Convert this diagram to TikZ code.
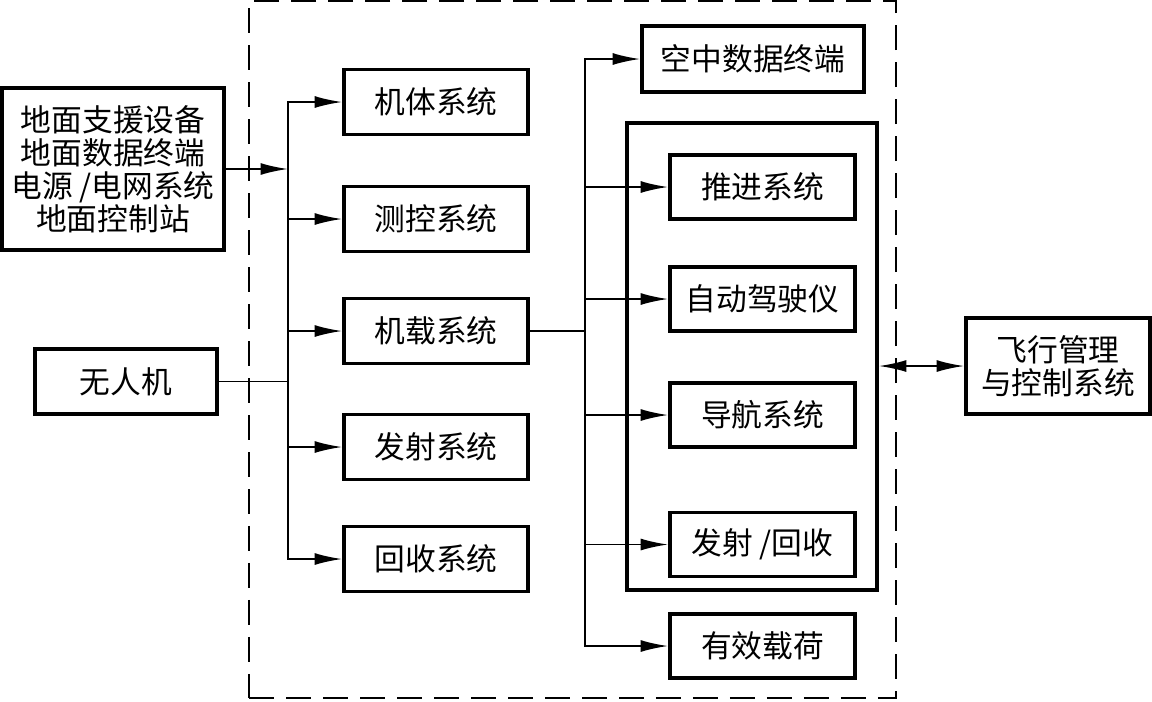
\documentclass[tikz,border=0pt]{standalone}
\usepackage{fontspec}
\setmainfont{Noto Sans CJK SC}
\usetikzlibrary{arrows.meta, positioning}

\begin{document}
\begin{tikzpicture}[x=0.02cm, y=-0.02cm,
    sys/.style={draw, line width=2.2pt, minimum width=3.68cm, minimum height=1.3cm,
                align=center, inner sep=2pt, font=\fontsize{17.5}{18.7}\selectfont},
    arr/.style={-{Latex[length=5.5mm,width=2.4mm]}, line width=1.1pt},
    lnk/.style={line width=1.1pt}
]
\useasboundingbox (0,0) rectangle (1152,701);

% 任务系统边界
\node[draw, dashed, dash pattern=on 0.5cm off 0.24cm, line width=1.1pt,
      minimum width=12.94cm, minimum height=13.94cm] (mission) at (572.5,349.5) {};

% 左侧
\node[sys, minimum width=4.44cm, minimum height=3.24cm] (ground) at (113,169)
     {地面支援设备\\地面数据终端\\电源 /电网系统\\地面控制站};
\node[sys, minimum width=3.64cm] (uav) at (126,381.5) {无人机};

% 中间一列
\node[sys] (jiti)   at (436,102) {机体系统};
\node[sys] (cekong) at (436,219) {测控系统};
\node[sys] (jizai)  at (436,331) {机载系统};
\node[sys] (fashe)  at (436,447) {发射系统};
\node[sys] (huishou) at (436,559) {回收系统};

% 机载部分
\node[sys, minimum width=4.44cm, minimum height=1.32cm] (kongzhong) at (753,59) {空中数据终端};
\node[draw, line width=2.2pt, minimum width=5cm, minimum height=9.34cm] (onboard) at (752,356.5) {};
\node[sys, minimum width=3.7cm, minimum height=1.28cm] (tuijin)  at (762.5,187) {推进系统};
\node[sys, minimum width=3.7cm, minimum height=1.28cm] (zidong)  at (762.5,299) {自动驾驶仪};
\node[sys, minimum width=3.7cm, minimum height=1.28cm] (daohang) at (762.5,415) {导航系统};
\node[sys, minimum width=3.7cm, minimum height=1.28cm] (fahui)   at (762.5,544.5) {发射 /回收};
\node[sys, minimum width=3.7cm, minimum height=1.28cm] (youxiao) at (762.5,646) {有效载荷};

\node[sys, minimum width=3.68cm, minimum height=1.92cm] (flight) at (1058,366) {飞行管理\\与控制系统};

% 分支点
\coordinate (b1) at (288,381.5);
\coordinate (b2) at (585,331);

\draw[arr] (ground.east) -- (ground.east -| b1);
\draw[lnk] (uav) -- (b1);
\draw[lnk] (b1) -- (b1 |- jiti);
\foreach \n in {jiti, cekong, jizai, fashe, huishou}
  \draw[arr] (b1) |- (\n);

\draw[lnk] (jizai) -- (b2);
\foreach \n in {kongzhong, tuijin, zidong, daohang, fahui, youxiao}
  \draw[arr] (b2) |- (\n);

\draw[{Latex[length=5.5mm,width=2.4mm]}-{Latex[length=5.5mm,width=2.4mm]}, line width=1.1pt]
  (flight.west -| onboard.east) -- (flight.west);
\end{tikzpicture}
\end{document}
